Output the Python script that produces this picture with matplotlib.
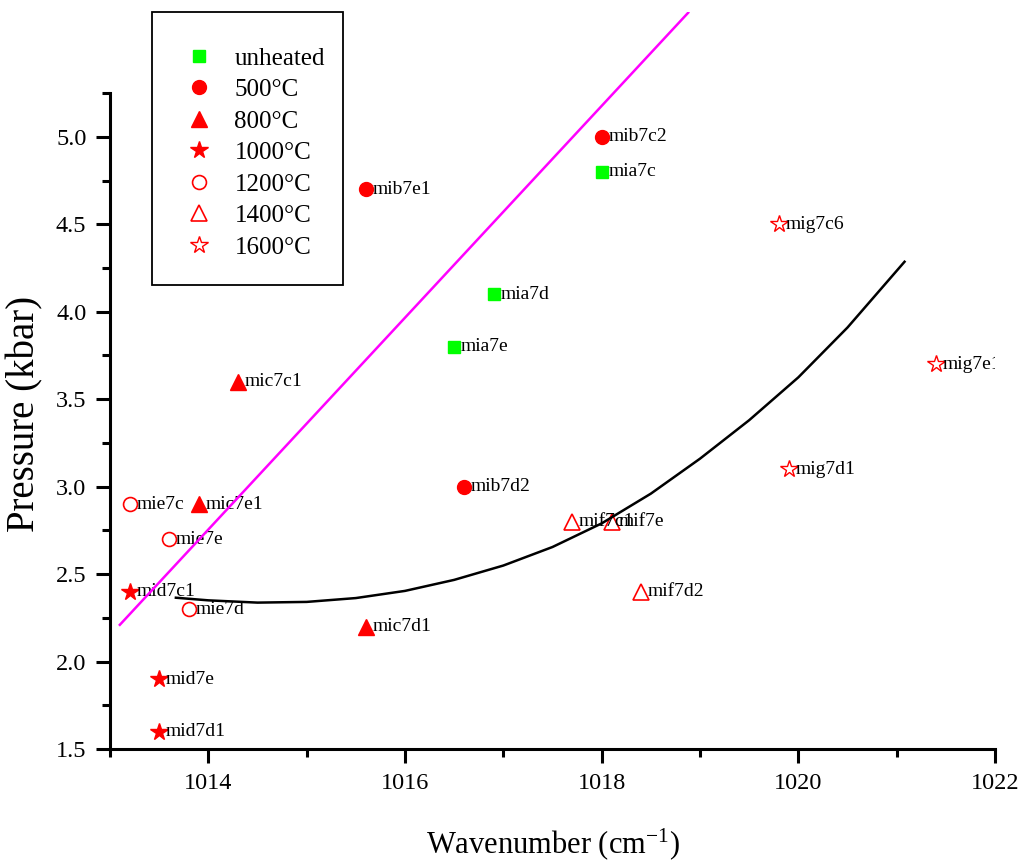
import matplotlib
matplotlib.use("Agg")
import matplotlib.pyplot as plt
from matplotlib.ticker import MultipleLocator, FixedLocator
from matplotlib.patches import Rectangle
from matplotlib.transforms import ScaledTranslation

plt.rcParams["font.family"] = ["Liberation Serif", "DejaVu Serif"]
plt.rcParams["mathtext.fontset"] = "custom"
plt.rcParams["mathtext.rm"] = "Liberation Serif"
plt.rcParams["mathtext.it"] = "Liberation Serif:italic"

# ---- data ----
group_labels = ["unheated", "500°C", "800°C", "1000°C", "1200°C", "1400°C", "1600°C"]

unheated_names = ["mia7c", "mia7d", "mia7e"]
unheated_x = [1018.0, 1016.9, 1016.5]
unheated_y = [4.8, 4.1, 3.8]

t500_names = ["mib7c2", "mib7e1", "mib7d2"]
t500_x = [1018.0, 1015.6, 1016.6]
t500_y = [5.0, 4.7, 3.0]

t800_names = ["mic7c1", "mic7e1", "mic7d1"]
t800_x = [1014.3, 1013.9, 1015.6]
t800_y = [3.6, 2.9, 2.2]

t1000_names = ["mid7c1", "mid7e", "mid7d1"]
t1000_x = [1013.2, 1013.5, 1013.5]
t1000_y = [2.4, 1.9, 1.6]

t1200_names = ["mie7c", "mie7e", "mie7d"]
t1200_x = [1013.2, 1013.6, 1013.8]
t1200_y = [2.9, 2.7, 2.3]

t1400_names = ["mif7c1", "mif7e", "mif7d2"]
t1400_x = [1017.7, 1018.1, 1018.4]
t1400_y = [2.8, 2.8, 2.4]

t1600_names = ["mig7c6", "mig7e1", "mig7d1"]
t1600_x = [1019.8, 1021.4, 1019.9]
t1600_y = [4.5, 3.7, 3.1]

# straight (magenta) line, end points
line_x = [1013.1, 1018.88]
line_y = [2.21, 5.71]

# curved (black) trend line
curve_x = [1013.67, 1014.0, 1014.5, 1015.0, 1015.5, 1016.0, 1016.5, 1017.0,
           1017.5, 1018.0, 1018.5, 1019.0, 1019.5, 1020.0, 1020.5, 1021.08]
curve_y = [2.365, 2.350, 2.337, 2.341, 2.363, 2.404, 2.467, 2.549,
           2.655, 2.790, 2.960, 3.160, 3.380, 3.625, 3.910, 4.286]

groups = [
    (unheated_names, unheated_x, unheated_y),
    (t500_names, t500_x, t500_y),
    (t800_names, t800_x, t800_y),
    (t1000_names, t1000_x, t1000_y),
    (t1200_names, t1200_x, t1200_y),
    (t1400_names, t1400_x, t1400_y),
    (t1600_names, t1600_x, t1600_y),
]

GREEN = "#00ff00"
RED = "#ff0000"
styles = [
    dict(marker="s", ms=9, mfc=GREEN, mec=GREEN),
    dict(marker="o", ms=10, mfc=RED, mec=RED),
    dict(marker="^", ms=11, mfc=RED, mec=RED),
    dict(marker="*", ms=13, mfc=RED, mec=RED),
    dict(marker="o", ms=10, mfc="white", mec=RED, mew=1.2),
    dict(marker="^", ms=11, mfc="white", mec=RED, mew=1.2),
    dict(marker="*", ms=13, mfc="white", mec=RED, mew=1.0),
]

fig = plt.figure(figsize=(10.19, 8.61), dpi=100)
ax = fig.add_axes([110 / 1019, 1 - 749 / 861, 885 / 1019, 737 / 861])

ax.plot(line_x, line_y, color="#ff00ff", lw=1.8, zorder=4)
ax.plot(curve_x, curve_y, color="black", lw=1.8, zorder=4)

offset = ax.transData + ScaledTranslation(5 / 72, 0, fig.dpi_scale_trans)
for (names, xs, ys), st, lab in zip(groups, styles, group_labels):
    ax.plot(xs, ys, ls="none", label=lab, zorder=3, **st)
    for n, x, y in zip(names, xs, ys):
        t = ax.text(x, y, n, transform=offset, ha="left", va="center",
                    fontsize=14, zorder=3.5)
        t.set_clip_box(ax.bbox)
        t.set_clip_on(True)

ax.set_xlim(1013, 1022)
ax.set_ylim(1.5, 5.714)

for side in ["top", "right"]:
    ax.spines[side].set_visible(False)
ax.spines["left"].set_bounds(1.5, 5.25)
for side in ["left", "bottom"]:
    ax.spines[side].set_linewidth(2.2)

ax.xaxis.set_major_locator(MultipleLocator(2))
ax.xaxis.set_minor_locator(FixedLocator([1013, 1015, 1017, 1019, 1021]))
ax.yaxis.set_major_locator(FixedLocator([1.5, 2.0, 2.5, 3.0, 3.5, 4.0, 4.5, 5.0]))
ax.yaxis.set_minor_locator(FixedLocator([1.75, 2.25, 2.75, 3.25, 3.75, 4.25, 4.75, 5.25]))
ax.yaxis.set_major_formatter(plt.FormatStrFormatter("%.1f"))
ax.tick_params(which="major", direction="out", length=10, width=2.2, labelsize=17.5, pad=7)
ax.tick_params(which="minor", direction="out", length=5.5, width=2.2)

ax.set_ylabel("Pressure (kbar)", fontsize=28)
ax.yaxis.set_label_coords(-0.075, 0.455)
ax.set_xlabel(r"Wavenumber (cm$^{-1}$)", fontsize=22)
ax.xaxis.set_label_coords(0.5, -0.105)

# legend box drawn as a plain rectangle, entries via legend without frame
ax.add_patch(Rectangle((42 / 885, 1 - 273 / 737), 191 / 885, 273 / 737,
                       transform=ax.transAxes, fill=False, ec="black",
                       lw=1.3, clip_on=False, zorder=5))
leg = ax.legend(loc="upper left", bbox_to_anchor=(0.053, 0.993), fontsize=18,
                frameon=False, borderpad=1.2, labelspacing=0.36, handlelength=1.0,
                handletextpad=0.9, borderaxespad=0, numpoints=1)

fig.savefig("out.png", dpi=100)
